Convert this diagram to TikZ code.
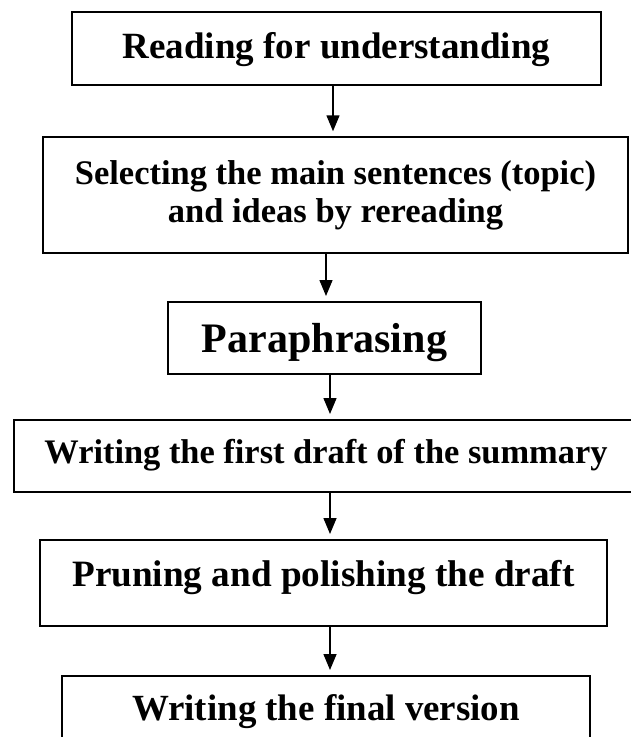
\documentclass[tikz,border=0pt]{standalone}
\usepackage{fontspec}
\setmainfont{Liberation Serif}
\usetikzlibrary{arrows.meta}

\tikzset{
  stage/.style={draw, line width=1.5pt, inner xsep=6pt, inner ysep=0pt},
  flow/.style={line width=1.5pt, -{Triangle[length=16pt, width=13pt]}, shorten >=5pt},
}

\begin{document}
\begin{tikzpicture}

\useasboundingbox (0,0) rectangle (631pt,-737pt);

\node [stage, anchor=north, minimum width=529pt, text height=47pt, text depth=26pt,
  font=\bfseries\fontsize{37pt}{44pt}\selectfont] (read) at (336.5pt,-11pt) {Reading for understanding};
\node [stage, minimum width=585pt, minimum height=116pt, align=center,
  font=\bfseries\fontsize{34.5pt}{38pt}\selectfont] (select) at (335.5pt,-195pt)
  {Selecting the main sentences (topic)\\and ideas by rereading};
\node [stage, anchor=north, minimum width=313pt, text height=51pt, text depth=21pt,
  font=\bfseries\fontsize{42pt}{50pt}\selectfont] (para) at (324.5pt,-301pt) {Paraphrasing};
\node [stage, anchor=north, minimum width=624pt, text height=44pt, text depth=28pt,
  font=\bfseries\fontsize{34.4pt}{41pt}\selectfont] (first) at (326pt,-419pt) {Writing the first draft of the summary};
\node [stage, anchor=north, minimum width=567pt, text height=47pt, text depth=39pt,
  font=\bfseries\fontsize{37.2pt}{44pt}\selectfont] (prune) at (323.5pt,-539pt) {Pruning and polishing the draft};
\node [stage, anchor=north, minimum width=528pt, text height=45pt, text depth=28pt,
  font=\bfseries\fontsize{36.9pt}{44pt}\selectfont] (final) at (326pt,-675pt) {Writing the final version};

\draw[flow] (read.south -| 333pt,0) -- (select.north -| 333pt,0);
\draw[flow] (select.south -| 326pt,0) -- (para.north -| 326pt,0);
\draw[flow] (para.south -| 330pt,0) -- (first.north -| 330pt,0);
\draw[flow] (first.south -| 330pt,0) -- (prune.north -| 330pt,0);
\draw[flow] (prune.south -| 330pt,0) -- (final.north -| 330pt,0);

\end{tikzpicture}
\end{document}
